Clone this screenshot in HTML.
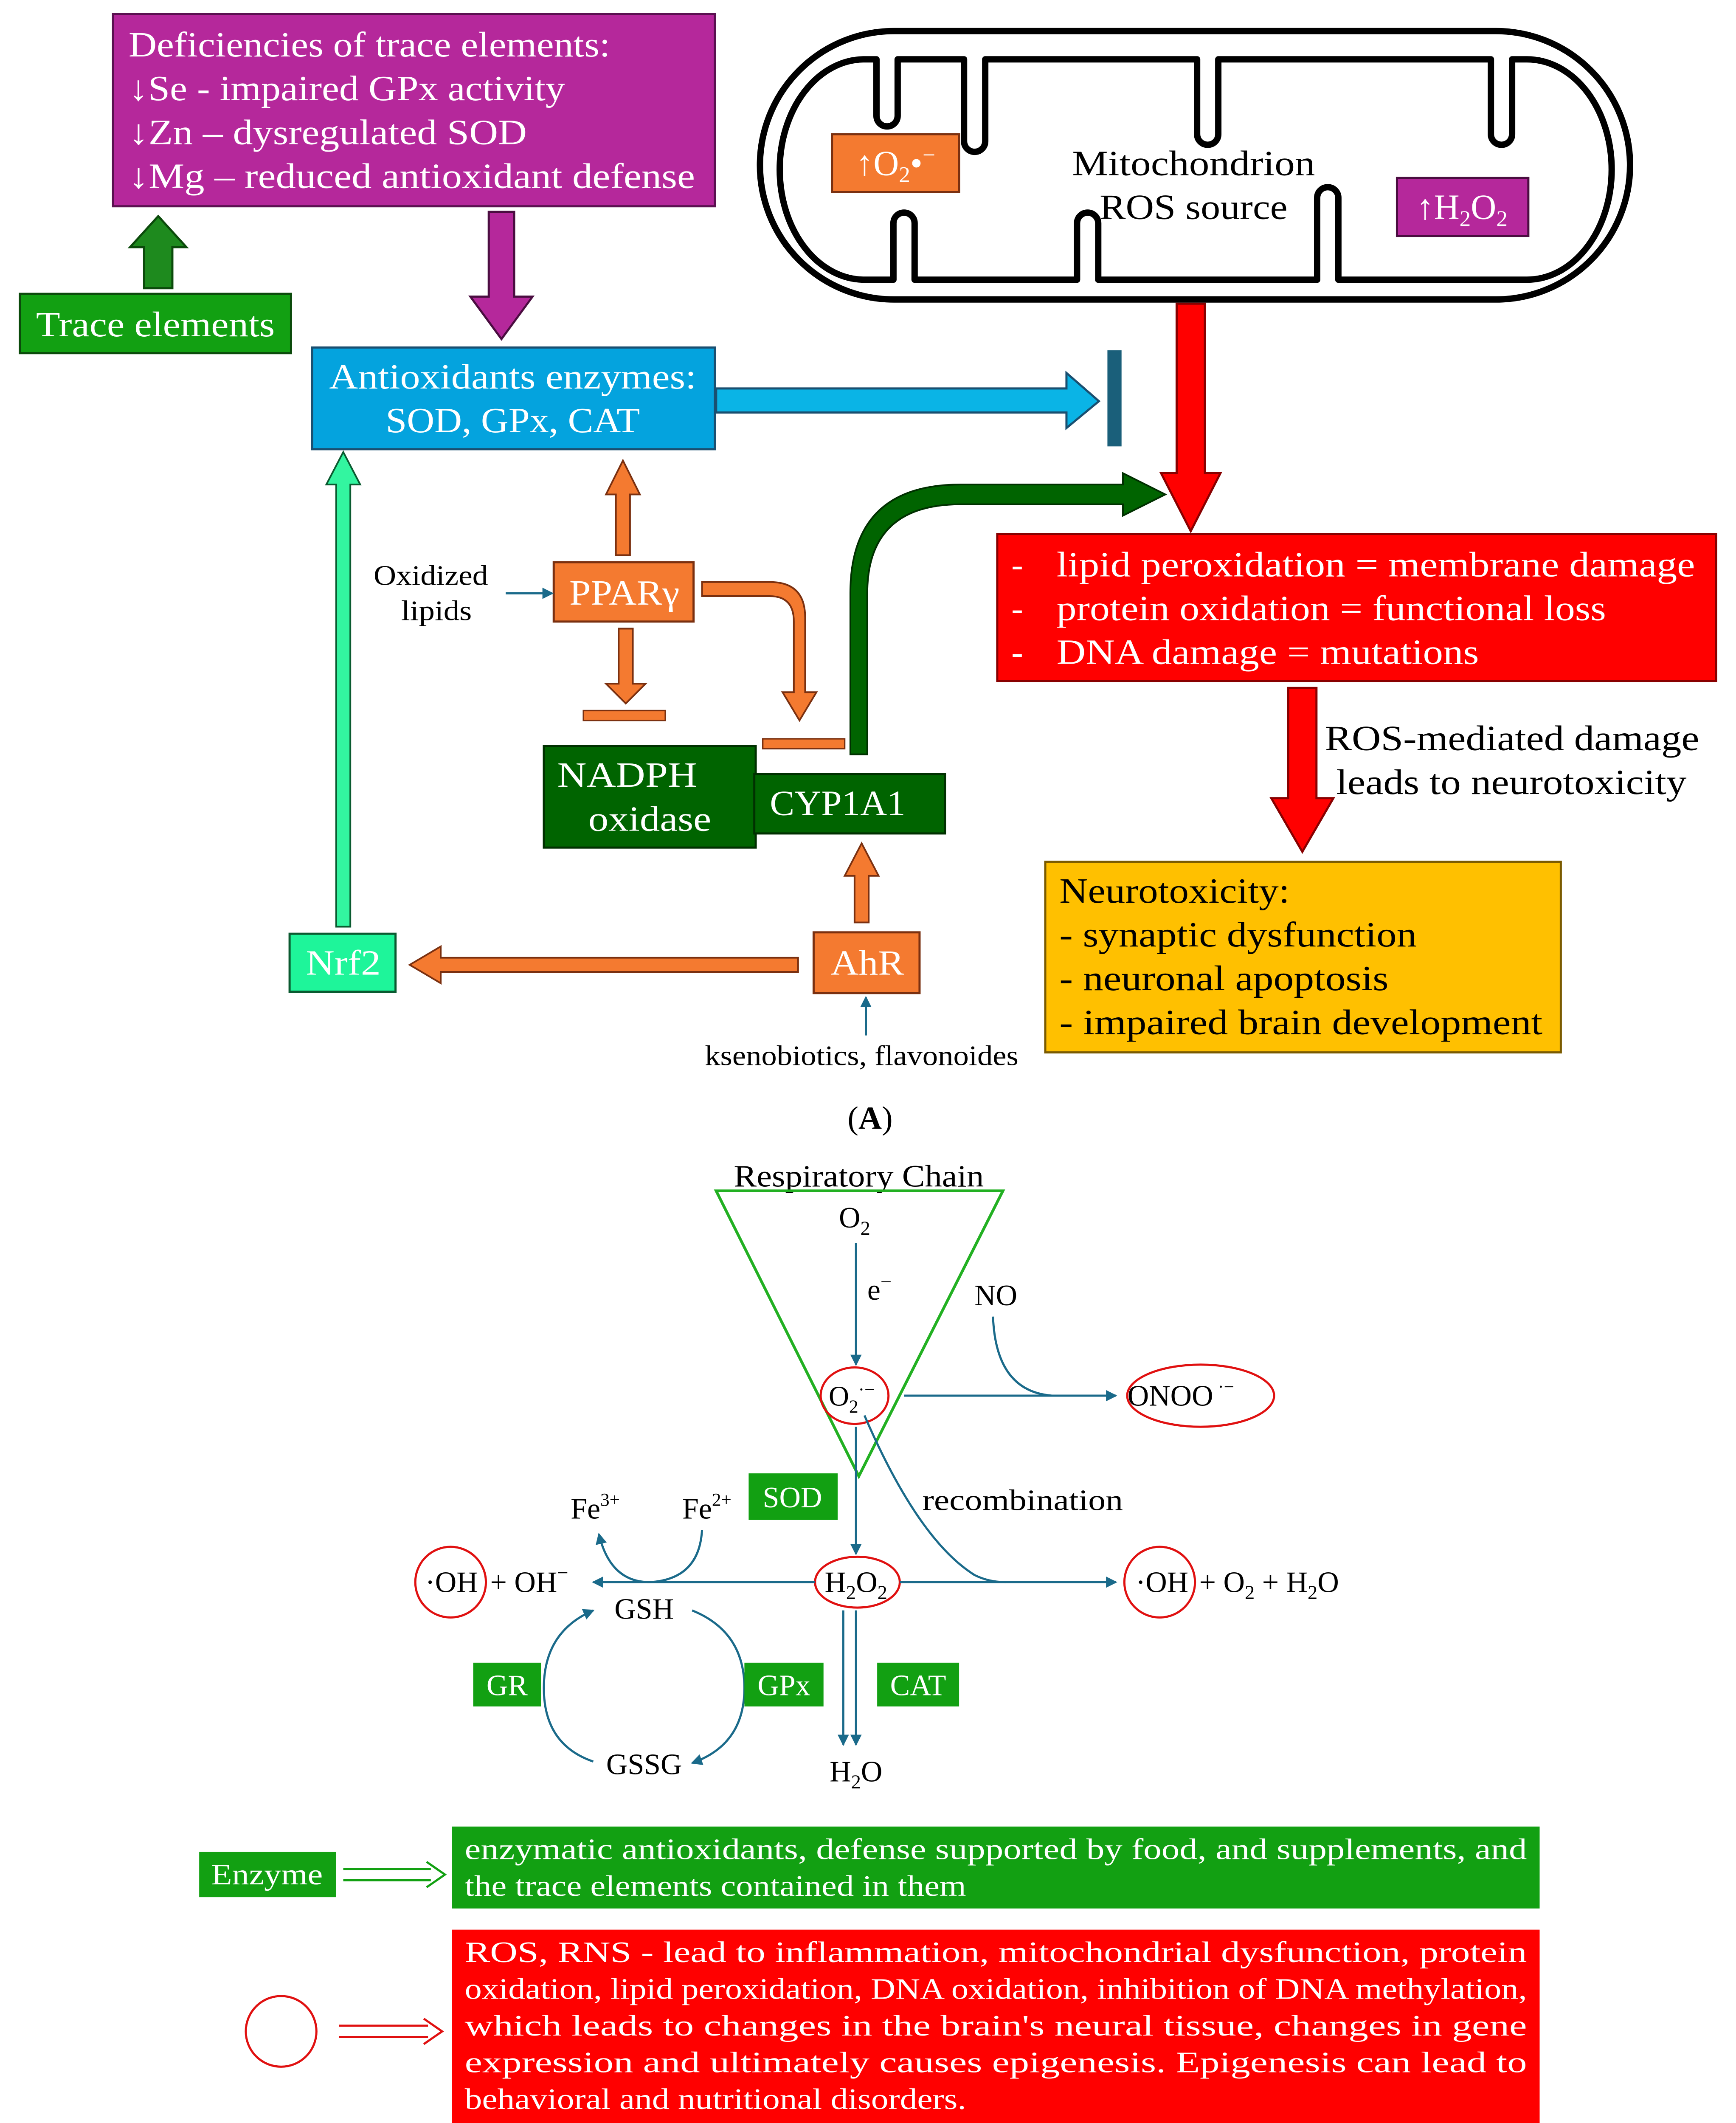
<!DOCTYPE html>
<html><head><meta charset="utf-8"><style>
html,body{margin:0;padding:0;background:#fff;width:4089px;height:5235px;overflow:hidden;}
svg{display:block;}
text{font-family:"Liberation Serif",serif;}
</style></head><body>
<svg xmlns="http://www.w3.org/2000/svg" width="4089" height="5235" viewBox="0 0 1229 1573.5">
<defs>
<marker id="ab" markerWidth="8" markerHeight="8" refX="7" refY="4" orient="auto" markerUnits="userSpaceOnUse"><path d="M0,0 L8,4 L0,8 z" fill="#1a6a8a"/></marker>
</defs>
<rect width="1229" height="1574" fill="#fff"/>

<!-- Purple box -->
<rect x="80" y="10" width="426" height="136" fill="#b5289b" stroke="#5a1050" stroke-width="1.5"/>
<g fill="#fff" font-size="25" lengthAdjust="spacingAndGlyphs">
<text x="91" y="40" textLength="341" lengthAdjust="spacingAndGlyphs">Deficiencies of trace elements:</text>
<text x="91" y="71" textLength="309" lengthAdjust="spacingAndGlyphs">↓Se - impaired GPx activity</text>
<text x="91" y="102" textLength="282" lengthAdjust="spacingAndGlyphs">↓Zn – dysregulated SOD</text>
<text x="91" y="133" textLength="401" lengthAdjust="spacingAndGlyphs">↓Mg – reduced antioxidant defense</text>
</g>
<path d="M102,204 L102,175 L92,175 L112,153 L132,175 L122,175 L122,204 Z" fill="#1e8a1e" stroke="#0b4a0b" stroke-width="1.5"/>
<rect x="14" y="208" width="192" height="42" fill="#12a012" stroke="#0b4a0b" stroke-width="1.5"/>
<text x="110" y="238" fill="#fff" font-size="25" text-anchor="middle" textLength="169" lengthAdjust="spacingAndGlyphs">Trace elements</text>
<path d="M346,150 L364,150 L364,210 L377,210 L355,240 L333,210 L346,210 Z" fill="#b5289b" stroke="#4a0d40" stroke-width="1.5"/>

<!-- blue box -->
<rect x="221" y="246" width="285" height="72" fill="#04a3de" stroke="#1a4f70" stroke-width="1.5"/>
<text x="363" y="275" fill="#fff" font-size="25" text-anchor="middle" textLength="260" lengthAdjust="spacingAndGlyphs">Antioxidants enzymes:</text>
<text x="363" y="306" fill="#fff" font-size="25" text-anchor="middle" textLength="180" lengthAdjust="spacingAndGlyphs">SOD, GPx, CAT</text>
<path d="M507,275 L755,275 L755,264 L778,284 L755,303 L755,292 L507,292 Z" fill="#0ab4e6" stroke="#1a4f70" stroke-width="1.5"/>
<rect x="784" y="248" width="10" height="68" fill="#1a5f7a"/>

<!-- mitochondrion -->
<rect x="538" y="22" width="616" height="190" rx="95" ry="95" fill="#fff" stroke="#000" stroke-width="4.5"/>
<path d="M612,42 L620.5,42 L620.5,82 A7.5,7.5 0 0 0 635.5,82 L635.5,42 L682.5,42 L682.5,100 A7.5,7.5 0 0 0 697.5,100 L697.5,42 L847.5,42 L847.5,95 A7.5,7.5 0 0 0 862.5,95 L862.5,42 L1055.5,42 L1055.5,95 A7.5,7.5 0 0 0 1070.5,95 L1070.5,42 L1081,42 A60,78 0 0 1 1141,120 A60,78 0 0 1 1081,198 L947.5,198 L947.5,140 A7.5,7.5 0 0 0 932.5,140 L932.5,198 L777.5,198 L777.5,158 A7.5,7.5 0 0 0 762.5,158 L762.5,198 L647.5,198 L647.5,158 A7.5,7.5 0 0 0 632.5,158 L632.5,198 L612,198 A60,78 0 0 1 552,120 A60,78 0 0 1 612,42 Z" fill="none" stroke="#000" stroke-width="4.5" stroke-linejoin="round"/>
<text x="845" y="124" font-size="25" text-anchor="middle" textLength="172" lengthAdjust="spacingAndGlyphs">Mitochondrion</text>
<text x="845" y="155" font-size="25" text-anchor="middle" textLength="133" lengthAdjust="spacingAndGlyphs">ROS source</text>
<rect x="589" y="95" width="90" height="41" fill="#f47a30" stroke="#7a3010" stroke-width="1.5"/>
<text x="634" y="124" fill="#fff" font-size="25" text-anchor="middle">↑O<tspan font-size="16" dy="5">2</tspan><tspan dy="-5">•</tspan><tspan font-size="16" dy="-9">−</tspan></text>
<rect x="989" y="126" width="93" height="41" fill="#b5289b" stroke="#4a0d40" stroke-width="1.5"/>
<text x="1035" y="155" fill="#fff" font-size="25" text-anchor="middle">↑H<tspan font-size="16" dy="5">2</tspan><tspan dy="-5">O</tspan><tspan font-size="16" dy="5">2</tspan></text>

<!-- red arrow down -->
<path d="M833,215 L853,215 L853,335 L864,335 L843,376 L822,335 L833,335 Z" fill="#ff0000" stroke="#800" stroke-width="1.5"/>
<rect x="706" y="378" width="509" height="104" fill="#ff0000" stroke="#800" stroke-width="1.5"/>
<g fill="#fff" font-size="25">
<text x="716" y="408">-</text><text x="748" y="408" textLength="452" lengthAdjust="spacingAndGlyphs">lipid peroxidation = membrane damage</text>
<text x="716" y="439">-</text><text x="748" y="439" textLength="389" lengthAdjust="spacingAndGlyphs">protein oxidation = functional loss</text>
<text x="716" y="470">-</text><text x="748" y="470" textLength="299" lengthAdjust="spacingAndGlyphs">DNA damage = mutations</text>
</g>
<path d="M912,487 L932,487 L932,565 L944,565 L922,603 L900,565 L912,565 Z" fill="#ff0000" stroke="#800" stroke-width="1.5"/>
<text x="938" y="531" font-size="25" textLength="265" lengthAdjust="spacingAndGlyphs">ROS-mediated damage</text>
<text x="946" y="562" font-size="25" textLength="248" lengthAdjust="spacingAndGlyphs">leads to neurotoxicity</text>
<rect x="740" y="610" width="365" height="135" fill="#ffc000" stroke="#7a5a00" stroke-width="1.5"/>
<g font-size="25">
<text x="750" y="639" textLength="163" lengthAdjust="spacingAndGlyphs">Neurotoxicity:</text>
<text x="750" y="670" textLength="253" lengthAdjust="spacingAndGlyphs">- synaptic dysfunction</text>
<text x="750" y="701" textLength="233" lengthAdjust="spacingAndGlyphs">- neuronal apoptosis</text>
<text x="750" y="732" textLength="342" lengthAdjust="spacingAndGlyphs">- impaired brain development</text>
</g>

<!-- PPAR -->
<rect x="392" y="398" width="99" height="42" fill="#f47a30" stroke="#7a3010" stroke-width="1.5"/>
<text x="442" y="428" fill="#fff" font-size="25" text-anchor="middle" textLength="78" lengthAdjust="spacingAndGlyphs">PPARγ</text>
<path d="M436,393 L436,350 L429,350 L441,326 L453,350 L446,350 L446,393 Z" fill="#f47a30" stroke="#7a3010" stroke-width="1.2"/>
<path d="M438,445 L448,445 L448,484 L457,484 L443,498 L429,484 L438,484 Z" fill="#f47a30" stroke="#7a3010" stroke-width="1.2"/>
<rect x="413" y="503" width="58" height="7" fill="#f47a30" stroke="#7a3010" stroke-width="1"/>
<path d="M497,412 L545,412 Q570,412 570,437 L570,490 L578,490 L566,510 L554,490 L562,490 L562,440 Q562,422 545,422 L497,422 Z" fill="#f47a30" stroke="#7a3010" stroke-width="1.2"/>
<rect x="540" y="523" width="58" height="7" fill="#f47a30" stroke="#7a3010" stroke-width="1"/>
<text x="305" y="414" font-size="20" text-anchor="middle" textLength="81" lengthAdjust="spacingAndGlyphs">Oxidized</text>
<text x="309" y="439" font-size="20" text-anchor="middle" textLength="50" lengthAdjust="spacingAndGlyphs">lipids</text>
<line x1="358" y1="420" x2="391" y2="420" stroke="#1a6a8a" stroke-width="1.5" marker-end="url(#ab)"/>

<!-- NADPH / CYP -->
<rect x="385" y="528" width="150" height="72" fill="#006400" stroke="#003000" stroke-width="1.5"/>
<text x="444" y="557" fill="#fff" font-size="25" text-anchor="middle" textLength="99" lengthAdjust="spacingAndGlyphs">NADPH</text>
<text x="460" y="588" fill="#fff" font-size="25" text-anchor="middle" textLength="87" lengthAdjust="spacingAndGlyphs">oxidase</text>
<rect x="534" y="548" width="135" height="42" fill="#006400" stroke="#003000" stroke-width="1.5"/>
<text x="593" y="577" fill="#fff" font-size="25" text-anchor="middle" textLength="96" lengthAdjust="spacingAndGlyphs">CYP1A1</text>
<path d="M602,534 L602,420 Q602,343 680,343 L795,343 L795,335 L825,350 L795,365 L795,357 L680,357 Q614,357 614,420 L614,534 Z" fill="#006400" stroke="#003000" stroke-width="1.2"/>

<!-- AhR / Nrf2 -->
<rect x="576" y="660" width="75" height="43" fill="#f47a30" stroke="#7a3010" stroke-width="1.5"/>
<text x="614" y="690" fill="#fff" font-size="25" text-anchor="middle" textLength="52" lengthAdjust="spacingAndGlyphs">AhR</text>
<path d="M605,653 L605,620 L598,620 L610,597 L622,620 L615,620 L615,653 Z" fill="#f47a30" stroke="#7a3010" stroke-width="1.2"/>
<path d="M565,678 L312,678 L312,670 L290,683 L312,696 L312,688 L565,688 Z" fill="#f47a30" stroke="#7a3010" stroke-width="1.2"/>
<rect x="205" y="661" width="75" height="41" fill="#1ef59a" stroke="#0a5a30" stroke-width="1.5"/>
<text x="243" y="690" fill="#fff" font-size="25" text-anchor="middle" textLength="53" lengthAdjust="spacingAndGlyphs">Nrf2</text>
<path d="M238,656 L238,343 L231,343 L243,320 L255,343 L248,343 L248,656 Z" fill="#33f5a0" stroke="#0a5a30" stroke-width="1.2"/>
<line x1="613" y1="733" x2="613" y2="706" stroke="#1a6a8a" stroke-width="1.5" marker-end="url(#ab)"/>
<text x="610" y="754" font-size="20" text-anchor="middle" textLength="222" lengthAdjust="spacingAndGlyphs">ksenobiotics, flavonoides</text>
<text x="616" y="799" font-size="23" text-anchor="middle">(<tspan font-weight="bold">A</tspan>)</text>

<!-- Part B -->
<text x="608" y="840" font-size="22" text-anchor="middle" textLength="177" lengthAdjust="spacingAndGlyphs">Respiratory Chain</text>
<polygon points="507,843 710,843 608,1045" fill="none" stroke="#22b022" stroke-width="2"/>
<text x="605" y="869" font-size="21" text-anchor="middle">O<tspan font-size="14" dy="5">2</tspan></text>
<line x1="606" y1="880" x2="606" y2="966" stroke="#1a6a8a" stroke-width="1.5" marker-end="url(#ab)"/>
<text x="614" y="920" font-size="21">e<tspan font-size="14" dy="-8">−</tspan></text>
<ellipse cx="605" cy="988" rx="24" ry="20" fill="none" stroke="#e01010" stroke-width="1.5"/>
<text x="603" y="995" font-size="20" text-anchor="middle">O<tspan font-size="13" dy="5">2</tspan><tspan font-size="13" dy="-12">·−</tspan></text>
<text x="705" y="924" font-size="21" text-anchor="middle">NO</text>
<line x1="640" y1="988" x2="790" y2="988" stroke="#1a6a8a" stroke-width="1.5" marker-end="url(#ab)"/>
<path d="M703,932 Q705,985 745,988" fill="none" stroke="#1a6a8a" stroke-width="1.5"/>
<ellipse cx="850" cy="988" rx="52" ry="22" fill="none" stroke="#e01010" stroke-width="1.5"/>
<text x="836" y="995" font-size="21" text-anchor="middle">ONOO<tspan font-size="13" dy="-9"> ·−</tspan></text>
<rect x="530" y="1043" width="63" height="33" fill="#12a012"/>
<text x="561" y="1067" fill="#fff" font-size="21" text-anchor="middle">SOD</text>
<line x1="606" y1="1010" x2="606" y2="1100" stroke="#1a6a8a" stroke-width="1.5" marker-end="url(#ab)"/>
<text x="724" y="1069" font-size="21" text-anchor="middle" textLength="142" lengthAdjust="spacingAndGlyphs">recombination</text>
<path d="M612,1002 Q650,1090 690,1115 Q700,1120 712,1120 L790,1120" fill="none" stroke="#1a6a8a" stroke-width="1.5" marker-end="url(#ab)"/>
<ellipse cx="607" cy="1120" rx="30" ry="18" fill="none" stroke="#e01010" stroke-width="1.5"/>
<text x="606" y="1127" font-size="21" text-anchor="middle">H<tspan font-size="14" dy="5">2</tspan><tspan dy="-5">O</tspan><tspan font-size="14" dy="5">2</tspan></text>
<line x1="637" y1="1120" x2="712" y2="1120" stroke="#1a6a8a" stroke-width="1.5"/>
<circle cx="821" cy="1120" r="25" fill="none" stroke="#e01010" stroke-width="1.5"/>
<text x="804" y="1127" font-size="21">·OH</text>
<text x="849" y="1127" font-size="21">+ O<tspan font-size="14" dy="5">2</tspan><tspan dy="-5"> + H</tspan><tspan font-size="14" dy="5">2</tspan><tspan dy="-5">O</tspan></text>
<line x1="577" y1="1120" x2="420" y2="1120" stroke="#1a6a8a" stroke-width="1.5" marker-end="url(#ab)"/>
<circle cx="319" cy="1120" r="25" fill="none" stroke="#e01010" stroke-width="1.5"/>
<text x="301" y="1127" font-size="21">·OH</text>
<text x="347" y="1127" font-size="21">+ OH<tspan font-size="14" dy="-9">−</tspan></text>
<text x="404" y="1075" font-size="21">Fe<tspan font-size="13" dy="-9">3+</tspan></text>
<text x="483" y="1075" font-size="21">Fe<tspan font-size="13" dy="-9">2+</tspan></text>
<path d="M497,1083 Q495,1118 460,1120 Q432,1120 424,1086" fill="none" stroke="#1a6a8a" stroke-width="1.5" marker-end="url(#ab)"/>
<text x="456" y="1146" font-size="21" text-anchor="middle">GSH</text>
<text x="456" y="1256" font-size="21" text-anchor="middle">GSSG</text>
<path d="M420,1247 Q385,1235 385,1195 Q385,1155 420,1140" fill="none" stroke="#1a6a8a" stroke-width="1.5" marker-end="url(#ab)"/>
<path d="M490,1140 Q527,1155 527,1195 Q527,1235 490,1248" fill="none" stroke="#1a6a8a" stroke-width="1.5" marker-end="url(#ab)"/>
<rect x="335" y="1177" width="48" height="31" fill="#12a012"/>
<text x="359" y="1200" fill="#fff" font-size="21" text-anchor="middle">GR</text>
<rect x="527" y="1177" width="56" height="31" fill="#12a012"/>
<text x="555" y="1200" fill="#fff" font-size="21" text-anchor="middle">GPx</text>
<rect x="621" y="1177" width="58" height="31" fill="#12a012"/>
<text x="650" y="1200" fill="#fff" font-size="21" text-anchor="middle">CAT</text>
<line x1="597" y1="1140" x2="597" y2="1235" stroke="#1a6a8a" stroke-width="1.5" marker-end="url(#ab)"/>
<line x1="606" y1="1140" x2="606" y2="1235" stroke="#1a6a8a" stroke-width="1.5" marker-end="url(#ab)"/>
<text x="606" y="1261" font-size="21" text-anchor="middle">H<tspan font-size="14" dy="5">2</tspan><tspan dy="-5">O</tspan></text>

<!-- legend -->
<rect x="141" y="1311" width="97" height="32" fill="#12a012"/>
<text x="189" y="1334" fill="#fff" font-size="21" text-anchor="middle" textLength="79" lengthAdjust="spacingAndGlyphs">Enzyme</text>
<path d="M243,1323 L305,1323 M243,1331 L305,1331" stroke="#12a012" stroke-width="1.5"/>
<path d="M302,1318 L315,1327 L302,1336" fill="none" stroke="#12a012" stroke-width="1.5"/>
<rect x="320" y="1293" width="770" height="58" fill="#12a012"/>
<text x="329" y="1316" fill="#fff" font-size="21" textLength="752" lengthAdjust="spacingAndGlyphs">enzymatic antioxidants, defense supported by food, and supplements, and</text>
<text x="329" y="1342" fill="#fff" font-size="21" textLength="355" lengthAdjust="spacingAndGlyphs">the trace elements contained in them</text>
<circle cx="199" cy="1438" r="25" fill="none" stroke="#e01010" stroke-width="1.5"/>
<path d="M240,1434 L303,1434 M240,1442 L303,1442" stroke="#e01010" stroke-width="1.5"/>
<path d="M300,1429 L313,1438 L300,1447" fill="none" stroke="#e01010" stroke-width="1.5"/>
<rect x="320" y="1366" width="770" height="137" fill="#ff0000"/>
<g fill="#fff" font-size="21">
<text x="329" y="1389" textLength="752" lengthAdjust="spacingAndGlyphs">ROS, RNS - lead to inflammation, mitochondrial dysfunction, protein</text>
<text x="329" y="1415" textLength="752" lengthAdjust="spacingAndGlyphs">oxidation, lipid peroxidation, DNA oxidation, inhibition of DNA methylation,</text>
<text x="329" y="1441" textLength="752" lengthAdjust="spacingAndGlyphs">which leads to changes in the brain's neural tissue, changes in gene</text>
<text x="329" y="1467" textLength="752" lengthAdjust="spacingAndGlyphs">expression and ultimately causes epigenesis. Epigenesis can lead to</text>
<text x="329" y="1493" textLength="355" lengthAdjust="spacingAndGlyphs">behavioral and nutritional disorders.</text>
</g>
<text x="616" y="1549" font-size="23" text-anchor="middle">(<tspan font-weight="bold">B</tspan>)</text>
</svg>
</body></html>
